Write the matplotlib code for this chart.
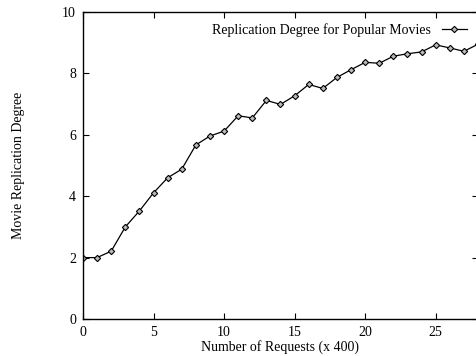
import matplotlib
matplotlib.use("Agg")
import matplotlib.pyplot as plt

requests = list(range(29))
replication = [2.0, 2.0, 2.21, 3.0, 3.52, 4.11, 4.6, 4.88, 5.67, 5.96,
               6.12, 6.62, 6.55, 7.12, 6.99, 7.27, 7.64, 7.51, 7.87, 8.12,
               8.36, 8.33, 8.56, 8.64, 8.7, 8.93, 8.83, 8.72, 8.95]

plt.rcParams['font.family'] = ['Liberation Serif', 'DejaVu Serif']

fig = plt.figure(figsize=(4.77, 3.56), dpi=100)
ax = fig.add_axes([83/477, 37/356, 395/477, 307/356])

ax.plot(requests, replication, color='black', lw=0.9, marker='D', ms=3.2,
        mfc='#bbbbbb', mec='black', mew=0.8,
        label='Replication Degree for Popular Movies')

ax.set_xlim(0, 28)
ax.set_ylim(0, 10)
ax.set_xticks([0, 5, 10, 15, 20, 25])
ax.set_yticks([0, 2, 4, 6, 8, 10])
ax.tick_params(direction='in', top=True, right=True, length=4, width=0.8,
               labelsize=10, pad=5, colors='black')
for s in ax.spines.values():
    s.set_linewidth(1.0)

ax.set_xlabel('Number of Requests (x 400)', fontsize=10, labelpad=1)
ax.set_ylabel('Movie Replication Degree', fontsize=10, labelpad=27)

ax.legend(loc='upper right', frameon=False, markerfirst=False, fontsize=10,
          handlelength=1.8, borderaxespad=0.4, bbox_to_anchor=(1.0, 1.0))

fig.savefig('out.png', dpi=100)
